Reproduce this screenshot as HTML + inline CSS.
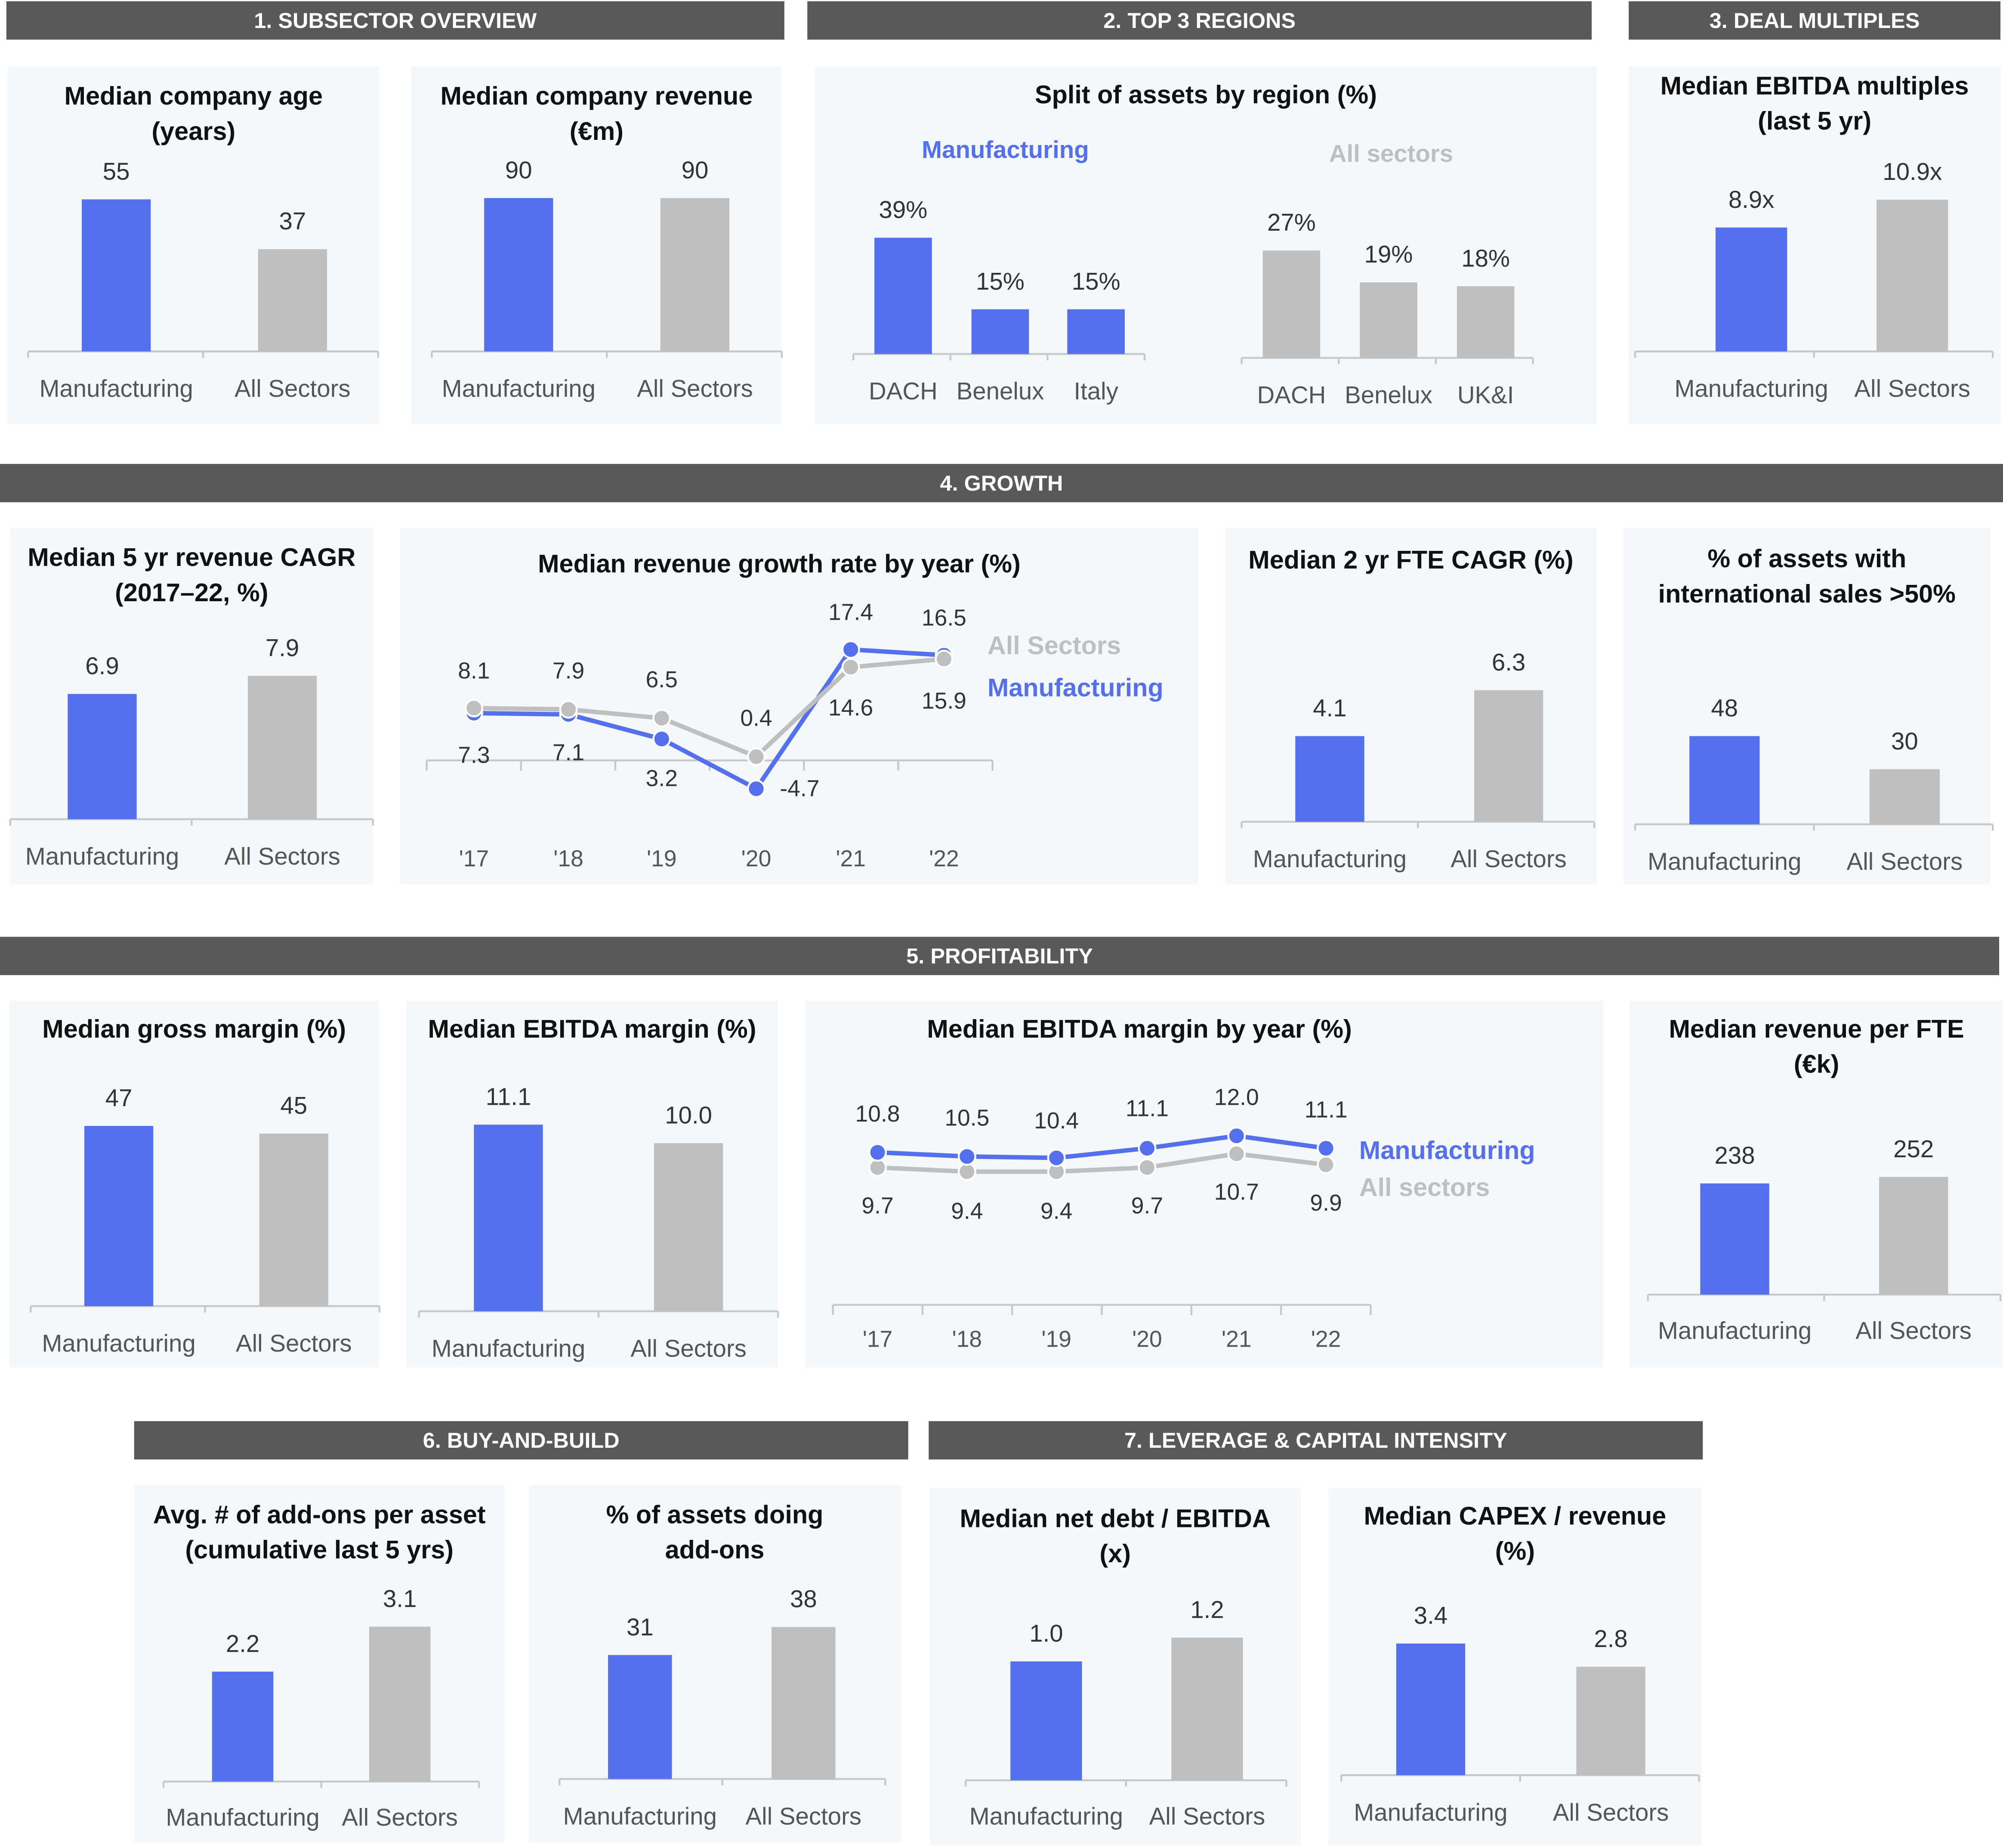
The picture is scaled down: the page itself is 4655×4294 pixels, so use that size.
<!DOCTYPE html>
<html><head><meta charset="utf-8">
<style>
html,body{margin:0;padding:0;background:#fff;}
svg{display:block;font-family:"Liberation Sans",sans-serif;}
</style></head>
<body>
<svg id="root" width="4655" height="4294" viewBox="0 0 1568 1446" preserveAspectRatio="none" xmlns="http://www.w3.org/2000/svg"></svg>
<script>
const BLUE='#5470ee', GRAY='#bfbfbf', PANEL='#f5f8fa', HDR='#595959';
const cats=['Manufacturing','All Sectors'];
const ageValues=[55,37];
const revenueValues=[90,90];
const regionMfgCats=['DACH','Benelux','Italy'];
const regionMfgValues=[39,15,15];
const regionAllCats=['DACH','Benelux','UK&I'];
const regionAllValues=[27,19,18];
const multipleValues=[8.9,10.9];
const cagrValues=[6.9,7.9];
const years=["'17","'18","'19","'20","'21","'22"];
const growthMfg=[7.3,7.1,3.2,-4.7,17.4,16.5];
const growthAll=[8.1,7.9,6.5,0.4,14.6,15.9];
const fteValues=[4.1,6.3];
const intlValues=[48,30];
const grossValues=[47,45];
const ebitdaValues=[11.1,10.0];
const marginMfg=[10.8,10.5,10.4,11.1,12.0,11.1];
const marginAll=[9.7,9.4,9.4,9.7,10.7,9.9];
const revFteValues=[238,252];
const addonValues=[2.2,3.1];
const addonPctValues=[31,38];
const debtValues=[1.0,1.2];
const capexValues=[3.4,2.8];

const svg=document.getElementById('root');
const NS='http://www.w3.org/2000/svg';
function el(tag,attrs,parent){const e=document.createElementNS(NS,tag);for(const k in attrs)e.setAttribute(k,attrs[k]);(parent||svg).appendChild(e);return e;}
function txt(x,y,s,size,fill,weight,anchor,parent){const t=el('text',{x:x,y:y,'font-size':size,fill:fill,'font-weight':weight||'normal','text-anchor':anchor||'middle','dominant-baseline':'central'},parent);t.textContent=s;return t;}

function header(x0,x1,y,label,name){
  const g=el('g',{});
  
  
  el('rect',{x:x0,y:y,width:x1-x0,height:30,fill:HDR},g);
  txt((x0+x1)/2,y+15,label,17,'#fff','bold','middle',g);
}
function panel(x0,y0,x1,y1,titles,ty,name,tx){
  const g=el('g',{});
  
  
  el('rect',{x:x0,y:y0,width:x1-x0,height:y1-y0,fill:PANEL},g);
  titles.forEach((t,i)=>{const e=txt(tx||(x0+x1)/2,ty+i*27.5,t,20,'#111','bold','middle',g);});
  return g;
}
function bars(g,values,labels,colors,xs,w,bottom,k,ax0,ax1,labY,valFmt){
  const y=v=>bottom-v*k;
  el('line',{x1:ax0,y1:bottom,x2:ax1,y2:bottom,stroke:'#c8c8c8','stroke-width':1.5},g);
  const n=values.length;
  const step=(ax1-ax0)/n;
  for(let i=0;i<=n;i++){el('line',{x1:ax0+i*step,y1:bottom,x2:ax0+i*step,y2:bottom+5,stroke:'#c8c8c8','stroke-width':1.5},g);}
  values.forEach((v,i)=>{
    const r=el('rect',{x:xs[i]-w/2,y:y(v),width:w,height:bottom-y(v),fill:colors[i]},g);
    
    
    const t=txt(xs[i],y(v)-22,valFmt?valFmt(v):String(v),19,'#333','normal','middle',g);
    
    
    const c=txt(xs[i],labY,labels[i],19,'#555','normal','middle',g);
    
    
  });
}
const BG=[BLUE,GRAY];
header(5,614,1,'1. SUBSECTOR OVERVIEW','header-subsector-overview');
header(632,1246,1,'2. TOP 3 REGIONS','header-top-regions');
header(1275,1566,1,'3. DEAL MULTIPLES','header-deal-multiples');
header(0,1568,363,'4. GROWTH','header-growth');
header(0,1565,733,'5.  PROFITABILITY','header-profitability');
header(105,711,1112,'6. BUY-AND-BUILD','header-buy-and-build');
header(727,1333,1112,'7. LEVERAGE & CAPITAL INTENSITY','header-leverage');

let g=panel(6,52,297,332,['Median company age','(years)'],75,'company-age-chart');
bars(g,ageValues,cats,BG,[91,229],54,275,119/55,22,296,304);
g=panel(322,52,612,332,['Median company revenue','(€m)'],75,'company-revenue-chart');
bars(g,revenueValues,cats,BG,[406,544],54,275,120/90,338,612,304);
g=panel(638,52,1250,332,['Split of assets by region (%)'],74,'region-split-chart');
txt(787,117,'Manufacturing',19,BLUE,'bold','middle',g);
txt(1089,120,'All sectors',19,GRAY,'bold','middle',g);
bars(g,regionMfgValues,regionMfgCats,[BLUE,BLUE,BLUE],[707,783,858],45,277,91/39,668,896,306,v=>v+'%');
bars(g,regionAllValues,regionAllCats,[GRAY,GRAY,GRAY],[1011,1087,1163],45,280,84/27,972,1200,309,v=>v+'%');
g=panel(1275,52,1566,332,['Median EBITDA multiples','(last 5 yr)'],67,'ebitda-multiples-chart');
bars(g,multipleValues,cats,BG,[1371,1497],56,275,97/8.9,1280,1560,304,v=>v.toFixed(1)+'x');

g=panel(8,413,292,692,['Median 5 yr revenue CAGR','(2017–22, %)'],436,'revenue-cagr-chart');
bars(g,cagrValues,cats,BG,[80,221],54,641,98/6.9,8,292,670,v=>v.toFixed(1));

function lineChart(g,xs,axY,ax0,ax1,yFn,series,colors,offsets,labY,names){
  el('line',{x1:ax0,y1:axY,x2:ax1,y2:axY,stroke:'#c8c8c8','stroke-width':1.5},g);
  const step=(ax1-ax0)/years.length;
  for(let i=0;i<=years.length;i++)el('line',{x1:ax0+i*step,y1:axY,x2:ax0+i*step,y2:axY+8,stroke:'#c8c8c8','stroke-width':1.5},g);
  years.forEach((yr,i)=>{const t=txt(xs[i],labY,yr,18,'#555','normal','middle',g);});
  series.forEach((s,si)=>{
    const p=el('polyline',{points:s.map((v,i)=>xs[i]+','+yFn(v)).join(' '),fill:'none',stroke:colors[si],'stroke-width':3.5},g);
    
    
    s.forEach((v,i)=>{
      const c=el('circle',{cx:xs[i],cy:yFn(v),r:6.5,fill:colors[si],stroke:'#fff','stroke-width':1.5},g);
      
      
    });
  });
  series.forEach((s,si)=>{
    s.forEach((v,i)=>{
      const o=offsets[si][i];
      const t=txt(xs[i]+o[0],yFn(v)+o[1],v.toFixed(1),18,'#333','normal','middle',g);
      
      
    });
  });
}
g=panel(313,413,938,692,['Median revenue growth rate by year (%)'],441,'revenue-growth-chart',610);
const gx=[371,445,518,592,666,739];
lineChart(g,gx,595,334,777,v=>594-v*4.93,[growthMfg,growthAll],[BLUE,GRAY],
 [[[0,33],[0,30],[0,31],[34,0],[0,-29],[0,-29]],[[0,-29],[0,-30],[0,-30],[0,-30],[0,32],[0,33]]],672,['line-manufacturing','line-all-sectors']);
txt(773,505,'All Sectors',20,GRAY,'bold','start',g);
txt(773,538,'Manufacturing',20,BLUE,'bold','start',g);

g=panel(959,413,1250,692,['Median 2 yr FTE CAGR (%)'],438,'fte-cagr-chart');
bars(g,fteValues,cats,BG,[1041,1181],54,643,67/4.1,972,1248,672,v=>v.toFixed(1));
g=panel(1271,413,1558,692,['% of assets with','international sales >50%'],437,'international-sales-chart');
bars(g,intlValues,cats,BG,[1350,1491],55,645,69/48,1280,1560,674);

g=panel(7,783,297,1070,['Median gross margin (%)'],805,'gross-margin-chart');
bars(g,grossValues,cats,BG,[93,230],54,1022,141/47,24,297,1051);
g=panel(318,783,609,1070,['Median EBITDA margin (%)'],805,'ebitda-margin-chart');
bars(g,ebitdaValues,cats,BG,[398,539],54,1026,146/11.1,328,609,1055,v=>v.toFixed(1));
g=panel(630,783,1255,1070,['Median EBITDA margin by year (%)'],805,'ebitda-margin-year-chart',892);
const mx=[687,757,827,898,968,1038];
lineChart(g,mx,1021,652,1073,v=>1018-v*10.77,[marginAll,marginMfg],[GRAY,BLUE],
 [[[0,30],[0,31],[0,31],[0,30],[0,30],[0,30]],[[0,-30],[0,-30],[0,-29],[0,-31],[0,-30],[0,-30]]],1048,['line-all-sectors','line-manufacturing']);
txt(1064,900,'Manufacturing',20,BLUE,'bold','start',g);
txt(1064,929,'All sectors',20,GRAY,'bold','start',g);
g=panel(1276,783,1568,1070,['Median revenue per FTE','(€k)'],805,'revenue-per-fte-chart');
bars(g,revFteValues,cats,BG,[1358,1498],54,1013,87/238,1290,1566,1041);

g=panel(105,1162,395,1442,['Avg. # of add-ons per asset','(cumulative last 5 yrs)'],1185,'addons-per-asset-chart');
bars(g,addonValues,cats,BG,[190,313],48,1394,86/2.2,128,375,1422,v=>v.toFixed(1));
g=panel(414,1162,705,1442,['% of assets doing','add-ons'],1185,'assets-doing-addons-chart');
bars(g,addonPctValues,cats,BG,[501,629],50,1392,97/31,438,693,1421);
g=panel(728,1164,1018,1444,['Median net debt / EBITDA','(x)'],1188,'net-debt-chart');
bars(g,debtValues,cats,BG,[819,945],56,1393,93/1.0,756,1007,1421,v=>v.toFixed(1));
g=panel(1040,1164,1332,1444,['Median CAPEX / revenue','(%)'],1186,'capex-chart');
bars(g,capexValues,cats,BG,[1120,1261],54,1389,103/3.4,1050,1330,1418,v=>v.toFixed(1));
</script>
</body></html>
